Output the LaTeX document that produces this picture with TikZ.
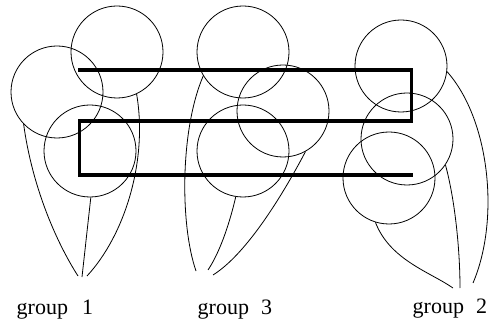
\documentclass[tikz,border=0pt]{standalone}
\usepackage{fontspec}
\setmainfont{Liberation Serif}
\begin{document}
\begin{tikzpicture}[x=1pt,y=-1pt,
  ring/.style={circle,draw,line width=0.8pt,minimum size=92pt,inner sep=0pt},
  wire/.style={line width=0.8pt},
  band/.style={line width=3.6pt,line join=miter},
  lbl/.style={anchor=base west,inner sep=0pt,font=\fontsize{22}{24}\selectfont}]
\useasboundingbox (0,0) rectangle (490,323);
\begin{scope}
\clip (0,0) rectangle (490,323);
% group 1 circles
\node[ring] (c1a) at (57,92) {};
\node[ring] (c1b) at (117,52) {};
\node[ring] (c1c) at (90,151) {};
% group 3 circles
\node[ring] (c3a) at (243,52) {};
\node[ring] (c3b) at (283,111) {};
\node[ring] (c3c) at (243,151) {};
% group 2 circles
\node[ring] (c2a) at (401,66) {};
\node[ring] (c2b) at (407,139) {};
\node[ring] (c2c) at (389,178) {};
% thick band
\draw[band] (78,70) -- (411.5,70) -- (411.5,121) -- (79.5,121) -- (79.5,175) -- (412.5,175);
% tips
\coordinate (t1a) at (78,276);
\coordinate (t1b) at (82,277);
\coordinate (t1c) at (87,276);
\coordinate (t3a) at (196,271);
\coordinate (t3b) at (208,270);
\coordinate (t3c) at (213,275);
\coordinate (t2a) at (453,288);
\coordinate (t2b) at (460,288);
\coordinate (t2c) at (473,283);
% group 1 connectors
\draw[wire] (c1a.224) .. controls (32,185) and (55,240) .. (t1a);
\draw[wire] (c1c.271) -- (t1b);
\draw[wire] (c1b.295) .. controls (148,160) and (125,235) .. (t1c);
% group 3 connectors
\draw[wire] (c3a.211) .. controls (180,130) and (180,225) .. (t3a);
\draw[wire] (c3c.261) .. controls (228,230) and (218,255) .. (t3b);
\draw[wire] (c3b.299) .. controls (280,200) and (245,255) .. (t3c);
% group 2 connectors
\draw[wire] (c2c.253) .. controls (390,260) and (430,272) .. (t2a);
\draw[wire] (c2b.326) .. controls (455,200) and (460,250) .. (t2b);
\draw[wire] (c2a.353) .. controls (490,120) and (500,220) .. (t2c);
\end{scope}
% labels
\node[lbl] (g1) at (16.5,314) {group\hspace{14pt}1};
\node[lbl] (g3) at (197.5,314) {group\hspace{12pt}3};
\node[lbl] (g2) at (412.5,313) {group\hspace{12pt}2};
\end{tikzpicture}
\end{document}
